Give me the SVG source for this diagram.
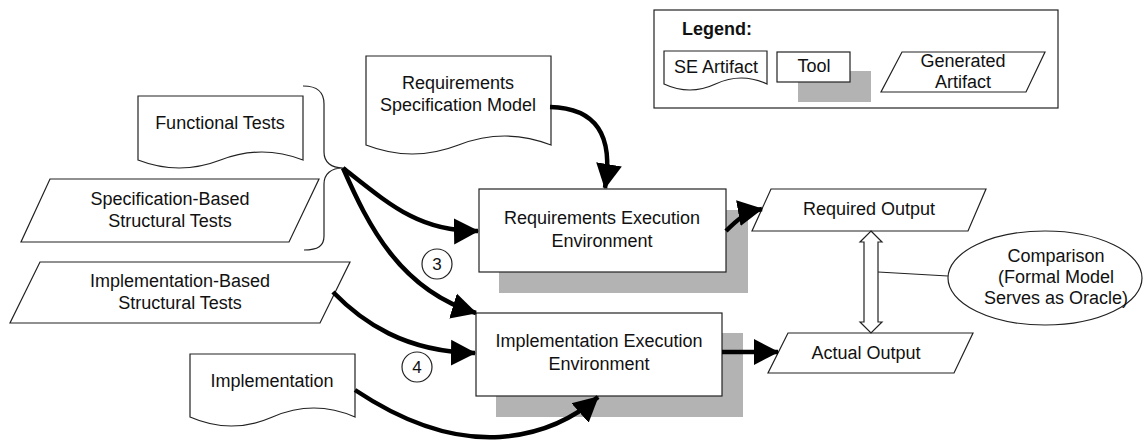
<svg xmlns="http://www.w3.org/2000/svg" width="1145" height="442" viewBox="0 0 1145 442">
  <defs>
    <marker id="head" markerUnits="userSpaceOnUse" markerWidth="26" markerHeight="28" viewBox="0 0 26 28" refX="24" refY="14" orient="auto">
      <path d="M0,1 L25,14 L0,27 Z" fill="#000"/>
    </marker>
  </defs>
  <style>
    .shape { fill: #fff; stroke: #222; stroke-width: 1.2; }
    .shadow { fill: #b3b3b3; stroke: none; }
    .lbl { font-family: "Liberation Sans", Arial, sans-serif; font-size: 18px; fill: #111; text-anchor: middle; }
    .num { font-family: "Liberation Sans", Arial, sans-serif; font-size: 17px; fill: #111; text-anchor: middle; }
    .flow { fill: none; stroke: #000; stroke-width: 4.5; marker-end: url(#head); }
    .thin { fill: none; stroke: #222; stroke-width: 1.2; }
  </style>
  <rect width="1145" height="442" fill="#fff"/>

  <!-- legend -->
  <g id="legend">
    <rect class="shape" x="654" y="10" width="404" height="98"/>
    <text x="682" y="35" style="font-family:'Liberation Sans',Arial,sans-serif;font-size:18px;font-weight:bold;fill:#111">Legend:</text>
    <path class="shape" d="M664,51 H767 V84 Q741.25,72 715.5,84 T664,84 Z"/>
    <text class="lbl" x="716" y="73">SE Artifact</text>
    <rect class="shadow" x="798" y="71" width="73" height="31"/>
    <rect class="shape" x="777" y="52" width="73" height="30"/>
    <text class="lbl" x="814" y="72">Tool</text>
    <path class="shape" d="M902,52 H1045 L1026,92 H881 Z"/>
    <text class="lbl" x="963" y="67">Generated</text>
    <text class="lbl" x="963" y="88">Artifact</text>
  </g>

  <!-- inputs -->
  <g id="functional-tests">
    <path class="shape" d="M138,96 H303 V160 Q261.75,144 220.5,160 T138,160 Z"/>
    <text class="lbl" x="220" y="129">Functional Tests</text>
  </g>
  <g id="spec-structural-tests">
    <path class="shape" d="M50,179 H319 L289,242 H21 Z"/>
    <text class="lbl" x="170" y="205">Specification-Based</text>
    <text class="lbl" x="170" y="227">Structural Tests</text>
  </g>
  <g id="brace">
    <path class="thin" d="M303,86 C318,86 324,92 324,104 L324,152 C324,162 331,168 343,168 C331,168 324,174 324,184 L324,236 C324,246 318,250 304,250"/>
  </g>
  <g id="req-spec-model">
    <path class="shape" d="M366,56 H551 V145 Q504.75,127 458.5,145 T366,145 Z"/>
    <text class="lbl" x="458" y="89">Requirements</text>
    <text class="lbl" x="458" y="111">Specification Model</text>
  </g>
  <g id="impl-structural-tests">
    <path class="shape" d="M40,262 H350 L320,323 H10 Z"/>
    <text class="lbl" x="180" y="287">Implementation-Based</text>
    <text class="lbl" x="180" y="309">Structural Tests</text>
  </g>
  <g id="implementation">
    <path class="shape" d="M190,354 H355 V417 Q313.75,399 272.5,417 T190,417 Z"/>
    <text class="lbl" x="272" y="387">Implementation</text>
  </g>

  <!-- tools -->
  <g id="req-exec-env">
    <rect class="shadow" x="499" y="210" width="249" height="83"/>
    <rect class="shape" x="479" y="189" width="247" height="83"/>
    <text class="lbl" x="602" y="224">Requirements Execution</text>
    <text class="lbl" x="602" y="247">Environment</text>
  </g>
  <g id="impl-exec-env">
    <rect class="shadow" x="496" y="333" width="247" height="84"/>
    <rect class="shape" x="476" y="313" width="246" height="83"/>
    <text class="lbl" x="599" y="347">Implementation Execution</text>
    <text class="lbl" x="599" y="370">Environment</text>
  </g>

  <!-- outputs -->
  <g id="required-output">
    <path class="shape" d="M771,189 H986 L968,231 H752 Z"/>
    <text class="lbl" x="869" y="215">Required Output</text>
  </g>
  <g id="actual-output">
    <path class="shape" d="M788,333 H973 L954,373 H768 Z"/>
    <text class="lbl" x="866" y="359">Actual Output</text>
  </g>
  <g id="comparison">
    <ellipse class="shape" cx="1045" cy="278" rx="97" ry="47"/>
    <text class="lbl" x="1056" y="262">Comparison</text>
    <text class="lbl" x="1056" y="283">(Formal Model</text>
    <text class="lbl" x="1056" y="304">Serves as Oracle)</text>
  </g>

  <!-- step markers -->
  <g id="step-3">
    <circle class="shape" cx="437" cy="264" r="15"/>
    <text class="num" x="437" y="270">3</text>
  </g>
  <g id="step-4">
    <circle class="shape" cx="417" cy="367" r="15"/>
    <text class="num" x="417" y="373">4</text>
  </g>

  <!-- connectors -->
  <g id="connectors">
    <path class="flow" d="M550,107 C596,108 614,135 605,188"/>
    <path class="flow" d="M343,168 C390,205 420,232 478,231"/>
    <path class="flow" d="M343,168 C368,225 400,290 476,313"/>
    <path class="flow" d="M333,292 C362,322 405,352 475,353"/>
    <path class="flow" d="M355,390 C400,420 450,440 500,437 C540,434 572,420 598,397"/>
    <path class="flow" d="M726,231 C735,222 745,212 762,209"/>
    <path class="flow" d="M722,352 H778"/>
    <!-- comparison link between the two outputs -->
    <path class="shape" d="M871,231 L882,242 H878 V322 H882 L871,333 L860,322 H864 V242 H860 Z"/>
    <path class="thin" d="M878,272 L948,276"/>
  </g>
</svg>
